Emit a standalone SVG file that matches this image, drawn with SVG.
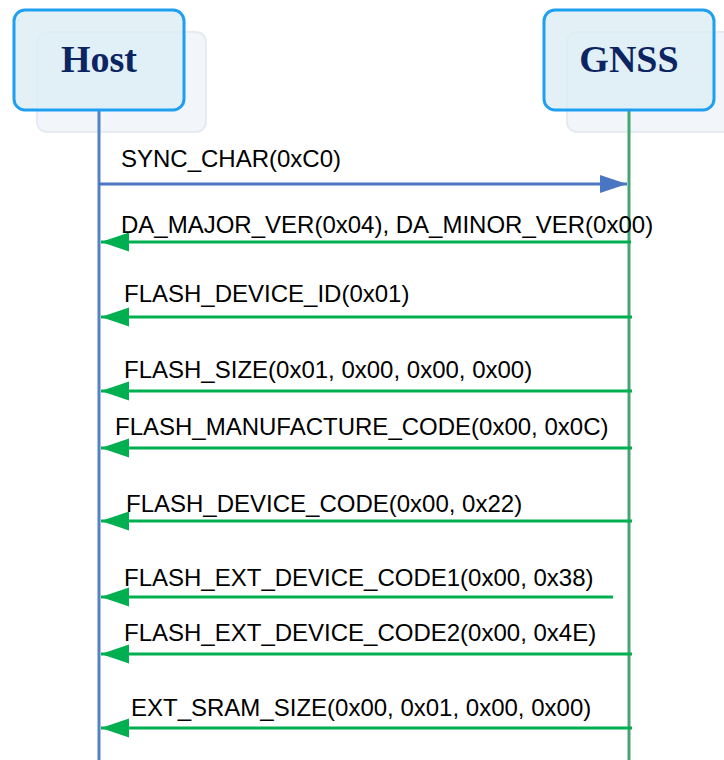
<svg xmlns="http://www.w3.org/2000/svg" width="724" height="760" viewBox="0 0 724 760">
<style>
.shadow{fill:#f2f5f9;stroke:#e6ebf2;stroke-width:2}
.box{fill:#dcedf5;fill-opacity:0.8;stroke:#1e9ff2;stroke-width:3}
.title{font-family:"Liberation Serif","Times New Roman",serif;font-weight:bold;font-size:38px;fill:#0c2462;text-anchor:middle}
.lbl{font-family:"Liberation Sans",Arial,sans-serif;font-size:24px;fill:#000}
.ret{stroke:#00b050;stroke-width:3;fill:none;marker-end:url(#gh)}
</style>
<defs>
<marker id="gh" markerUnits="userSpaceOnUse" markerWidth="30" markerHeight="20" refX="28" refY="9.5" orient="auto">
<path d="M0,0 L28,9.5 L0,19 Z" fill="#00b050"/>
</marker>
<marker id="bh" markerUnits="userSpaceOnUse" markerWidth="30" markerHeight="20" refX="27" refY="9" orient="auto">
<path d="M0,0 L27,9 L0,18 Z" fill="#4a76c2"/>
</marker>
</defs>
<g id="host">
<rect class="shadow" x="37" y="32" width="169" height="100" rx="10"/>
<line x1="99" y1="110" x2="99" y2="760" stroke="#5581c6" stroke-width="3"/>
<rect class="box" x="14" y="10" width="170" height="100" rx="11"/>
<text class="title" x="99" y="72">Host</text>
</g>
<g id="gnss">
<rect class="shadow" x="567" y="32" width="175" height="100" rx="10"/>
<line x1="629" y1="110" x2="629" y2="760" stroke="#45a573" stroke-width="3"/>
<rect class="box" x="544" y="10" width="170" height="100" rx="11"/>
<text class="title" x="629" y="72">GNSS</text>
</g>
<g id="connectors">
<line x1="99" y1="184" x2="627" y2="184" stroke="#4a76c2" stroke-width="3" marker-end="url(#bh)"/>
<line class="ret" x1="631" y1="242" x2="101" y2="242"/>
<line class="ret" x1="632" y1="317" x2="101" y2="317"/>
<line class="ret" x1="632" y1="391" x2="101" y2="391"/>
<line class="ret" x1="632" y1="448" x2="101" y2="448"/>
<line class="ret" x1="632" y1="521" x2="101" y2="521"/>
<line class="ret" x1="613" y1="597" x2="101" y2="597"/>
<line class="ret" x1="632" y1="654" x2="101" y2="654"/>
<line class="ret" x1="632" y1="728" x2="101" y2="728"/>
</g>
<g id="labels">
<text class="lbl" x="121" y="167">SYNC_CHAR(0xC0)</text>
<text class="lbl" x="121" y="233">DA_MAJOR_VER(0x04), DA_MINOR_VER(0x00)</text>
<text class="lbl" x="124" y="302">FLASH_DEVICE_ID(0x01)</text>
<text class="lbl" x="124" y="378">FLASH_SIZE(0x01, 0x00, 0x00, 0x00)</text>
<text class="lbl" x="115" y="435">FLASH_MANUFACTURE_CODE(0x00, 0x0C)</text>
<text class="lbl" x="126" y="512">FLASH_DEVICE_CODE(0x00, 0x22)</text>
<text class="lbl" x="124" y="586">FLASH_EXT_DEVICE_CODE1(0x00, 0x38)</text>
<text class="lbl" x="124" y="641">FLASH_EXT_DEVICE_CODE2(0x00, 0x4E)</text>
<text class="lbl" x="131" y="716">EXT_SRAM_SIZE(0x00, 0x01, 0x00, 0x00)</text>
</g>
</svg>
